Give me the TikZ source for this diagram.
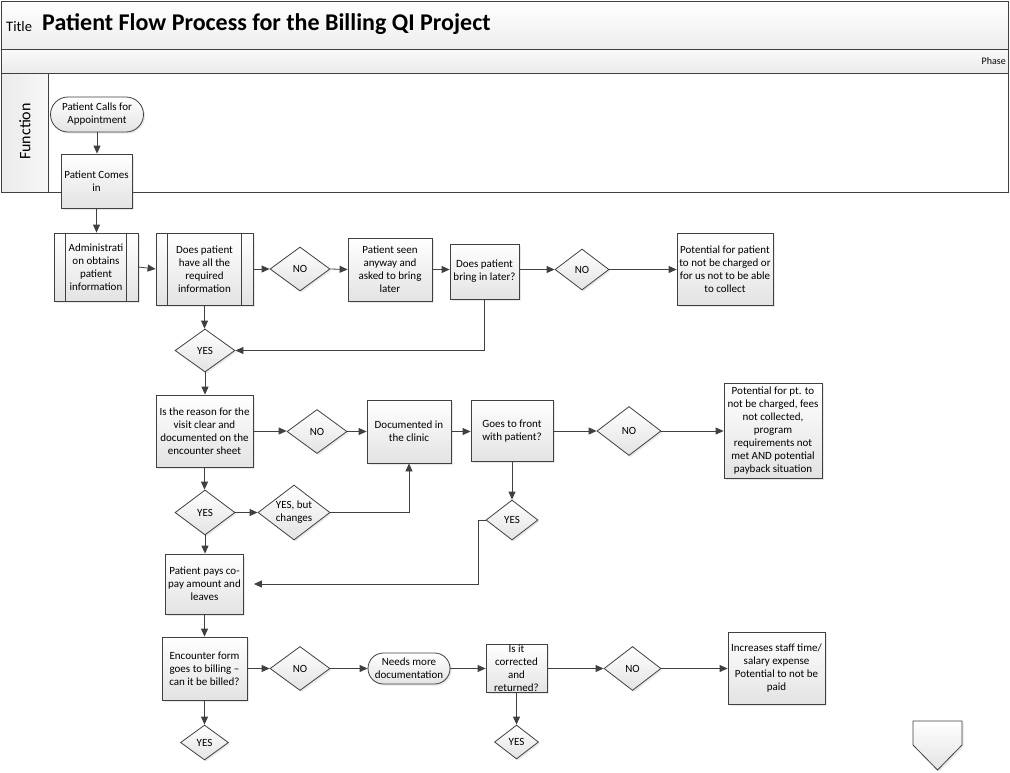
\documentclass[tikz,border=0pt]{standalone}
\usepackage{fontspec}
\setmainfont{Carlito}
\usetikzlibrary{shapes.geometric,shapes.misc,arrows.meta,shadows}
\newcommand\boxfont{\fontsize{11}{13}\selectfont}
\tikzset{
  line/.style={draw=black!75, line width=0.8pt},
  conn/.style={line, -{Triangle[length=8pt,width=7pt]}},
  filled/.style={top color=white, bottom color=black!11, draw=black!75, line width=0.8pt,
    drop shadow={shadow xshift=1.6pt, shadow yshift=-1.6pt, opacity=0.18}},
  sz/.style 2 args={minimum width=#1, minimum height=#2},
  proc/.style={filled, rectangle, align=center, inner sep=1pt, font=\boxfont},
  term/.style={filled, rounded rectangle, align=center, inner sep=1pt, font=\boxfont},
  dec/.style={filled, diamond, aspect=1.35, align=center, inner sep=0pt, font=\boxfont},
  lane/.style={draw=black!75, line width=0.8pt},
}
\begin{document}
\begin{tikzpicture}[x=1pt,y=-1pt]
\useasboundingbox (0,0) rectangle (1010,772);
% swimlane frame
\path[lane, top color=white, bottom color=black!7] (1,1) rectangle (1008,49);
\path[lane, top color=black!2, bottom color=black!8] (1,49) rectangle (1008,73);
\path[lane, fill=white] (1,73) rectangle (1008,192);
\path[lane, left color=black!8, right color=black!3] (1,73) rectangle (48,192);
\node[anchor=west, font=\fontsize{14.5}{16}\selectfont, inner sep=0pt] (titlelbl) at (6,26.5) {Title};
\node[anchor=west, font=\fontsize{24}{28}\selectfont\bfseries, inner sep=0pt] (title) at (42,24.5) {Patient Flow Process for the Billing QI Project};
\node[anchor=east, font=\fontsize{10}{12}\selectfont, inner sep=0pt] (phase) at (1006,61) {Phase};
\node[rotate=90, font=\fontsize{16}{18}\selectfont, inner sep=0pt] (function) at (25,131.5) {Function};

% nodes
\node[term, sz={95}{35}] (call) at (97,114.5) {Patient Calls for\\Appointment};
\node[proc, sz={71}{54}] (comes) at (96.5,181) {Patient Comes\\in};
\node[proc, sz={84}{68}] (admin) at (96,267) {Administrati\\on obtains\\patient\\information};
\node[proc, sz={97}{72}] (have) at (204.5,269) {Does patient\\have all the\\required\\information};
\node[dec, sz={60}{44}] (no1) at (300,269) {NO};
\node[proc, sz={84}{63}] (seen) at (390,269.5) {Patient seen\\anyway and\\asked to bring\\later};
\node[proc, sz={69}{55}] (bring) at (484.5,271.5) {Does patient\\bring in later?};
\node[dec, sz={54}{41}] (no2) at (582,269.5) {NO};
\node[proc, sz={96}{72}] (pot1) at (725,269) {Potential for patient\\to not be charged or\\for us not to be able\\to collect};
\node[dec, sz={60}{43}] (yes1) at (205,350.5) {YES};

\node[proc, sz={97}{72}] (reason) at (204.5,431) {Is the reason for the\\visit clear and\\documented on the\\encounter sheet};
\node[dec, sz={60}{44}] (no3) at (317,431.5) {NO};
\node[proc, sz={84}{63}] (doc) at (409,431.5) {Documented in\\the clinic};
\node[proc, sz={82}{61}] (front) at (512,431) {Goes to front\\with patient?};
\node[dec, sz={64}{49}] (no4) at (629,431) {NO};
\node[proc, sz={98}{95}] (pot2) at (773,430.5) {Potential for pt. to\\not be charged, fees\\not collected,\\program\\requirements not\\met AND potential\\payback situation};
\node[dec, sz={60}{45}] (yes2) at (205,512.5) {YES};
\node[dec, sz={72}{55}] (yesbut) at (294,512.5) {YES, but\\changes};
\node[dec, sz={52}{40}] (yes3) at (512,520) {YES};
\node[proc, sz={78}{60}] (pays) at (204.5,584) {Patient pays co-\\pay amount and\\leaves};

\node[proc, sz={85}{63}] (enc) at (204.5,668.5) {Encounter form\\goes to billing –\\can it be billed?};
\node[dec, sz={60}{44}] (no5) at (300,668.5) {NO};
\node[term, sz={84}{31}] (needs) at (409,668.5) {Needs more\\documentation};
\node[proc, sz={61}{48}] (corr) at (516.5,668.5) {Is it\\corrected\\and\\returned?};
\node[dec, sz={57}{44}] (no6) at (632.5,668.5) {NO};
\node[proc, sz={97}{72}] (inc) at (776.5,668) {Increases staff time/\\salary expense\\Potential to not be\\paid};
\node[dec, sz={48}{35}] (yes4) at (204.5,742.5) {YES};
\node[dec, sz={44}{34}] (yes5) at (516.5,742) {YES};

% off-page reference
\path[filled] (913,721) -- (962,721) -- (962,745) -- (937.5,770) -- (913,745) -- cycle;

% predefined process bars
\draw[line] ([xshift=12pt]admin.north west) -- ([xshift=12pt]admin.south west);
\draw[line] ([xshift=-12pt]admin.north east) -- ([xshift=-12pt]admin.south east);
\draw[line] ([xshift=12pt]have.north west) -- ([xshift=12pt]have.south west);
\draw[line] ([xshift=-12pt]have.north east) -- ([xshift=-12pt]have.south east);

% connectors
\draw[conn] (call.south) -- (call.south |- comes.north);
\draw[conn] (comes.south) -- (comes.south |- admin.north);
\draw[conn] (admin.east) -- (have.west);
\draw[conn] (have.east) -- (no1.west);
\draw[conn] (no1.east) -- (seen.west);
\draw[conn] (seen.east) -- (seen.east -| bring.west);
\draw[conn] (bring.east |- no2.west) -- (no2.west);
\draw[conn] (no2.east) -- (no2.east -| pot1.west);
\draw[conn] (have.south) -- (have.south |- yes1.north);
\draw[conn] (bring.south) |- (yes1.east);
\draw[conn] (yes1.south) -- (yes1.south |- reason.north);
\draw[conn] (reason.east) -- (reason.east -| no3.west);
\draw[conn] (no3.east) -- (no3.east -| doc.west);
\draw[conn] (doc.east) -- (doc.east -| front.west);
\draw[conn] (front.east) -- (front.east -| no4.west);
\draw[conn] (no4.east) -- (no4.east -| pot2.west);
\draw[conn] (reason.south) -- (reason.south |- yes2.north);
\draw[conn] (yes2.east) -- (yesbut.west);
\draw[conn] (yesbut.east) -| (doc.south);
\draw[conn] (front.south) -- (front.south |- yes3.north);
\draw[conn, shorten >=10pt] (yes3.west) -- ++(-7,0) |- (pays.east);
\draw[conn] (yes2.south) -- (yes2.south |- pays.north);
\draw[conn] (pays.south) -- (pays.south |- enc.north);
\draw[conn] (enc.east) -- (no5.west);
\draw[conn] (no5.east) -- (needs.west);
\draw[conn] (needs.east) -- (corr.west);
\draw[conn] (corr.east) -- (no6.west);
\draw[conn] (no6.east) -- (no6.east -| inc.west);
\draw[conn] (enc.south) -- (yes4.north);
\draw[conn] (corr.south) -- (yes5.north);
\end{tikzpicture}
\end{document}
